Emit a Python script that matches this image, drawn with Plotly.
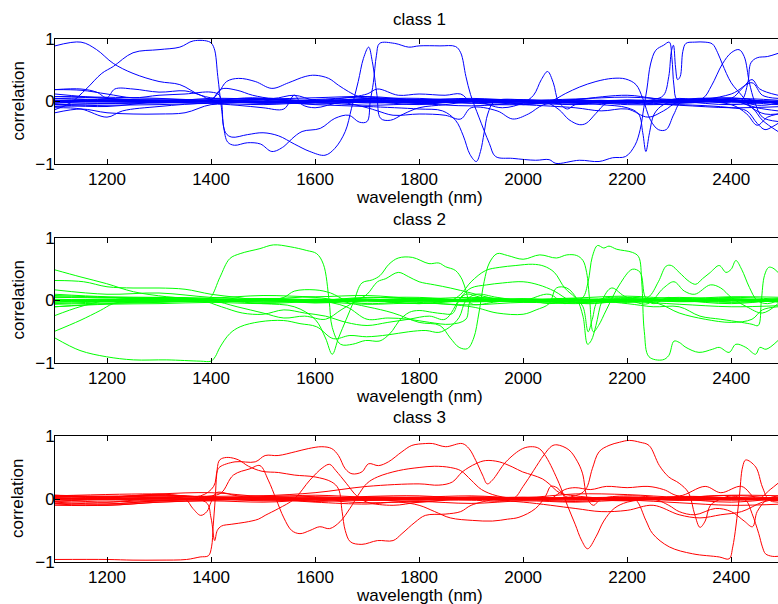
import plotly.graph_objects as go

# ---------------- data ----------------
wl_grid = [1100, 1200, 1300, 1400, 1500, 1600, 1700, 1800, 1900, 2000, 2100, 2200, 2300, 2400, 2500]
x_ticks = [1200, 1400, 1600, 1800, 2000, 2200, 2400]
y_ticks = [-1, 0, 1]
y_ticktext = ["\u22121", "0", "1"]
panel_titles = ["class 1", "class 2", "class 3"]
panel_colors = ["#0000ff", "#00ff00", "#ff0000"]

# ---- class 1 : large-amplitude curves (wavelength, correlation)
c1_a = [(1100,0.89),(1150,0.95),(1180,0.83),(1212,0.61),(1250,0.45),(1300,0.32),(1340,0.27),(1380,0.10),(1420,0.04),(1480,0.06),(1550,0.02),(1620,0.04),(1700,0.07),(1760,0.03),(1820,-0.02),(1880,0.01),(1950,0.03),(2050,-0.02),(2150,0.02),(2250,-0.04),(2300,0.05),(2350,0.0),(2400,0.04),(2450,-0.06),(2490,-0.03)]
c1_b = [(1100,-0.13),(1130,-0.02),(1160,0.2),(1190,0.45),(1212,0.56),(1250,0.78),(1300,0.83),(1340,0.87),(1366,0.97),(1398,0.95),(1406,0.85),(1413,0.4),(1420,-0.1),(1428,-0.5),(1440,-0.57),(1470,-0.53),(1500,-0.5),(1530,-0.55),(1560,-0.68),(1590,-0.8),(1619,-0.86),(1638,-0.75),(1658,-0.48),(1670,-0.11),(1683,0.32),(1693,0.69),(1703,0.87),(1710,0.64),(1719,0.1),(1726,-0.27),(1745,-0.3),(1770,-0.2),(1800,-0.1),(1850,-0.05),(1900,0.0),(1950,0.02),(2000,-0.05),(2050,0.0),(2100,0.03),(2200,-0.02),(2300,0.03),(2400,0.0),(2490,-0.05)]
c1_c = [(1100,0.19),(1150,0.18),(1200,0.12),(1250,0.06),(1300,0.1),(1350,0.12),(1400,0.15),(1416,0.1),(1424,-0.4),(1432,-0.65),(1445,-0.7),(1470,-0.66),(1495,-0.68),(1517,-0.8),(1540,-0.72),(1555,-0.6),(1575,-0.48),(1610,-0.43),(1638,-0.27),(1665,-0.22),(1685,-0.33),(1700,-0.32),(1706,0.0),(1712,0.3),(1718,0.74),(1724,0.93),(1753,0.93),(1780,0.87),(1800,0.89),(1840,0.89),(1870,0.88),(1880,0.78),(1890,0.4),(1899,0.11),(1915,-0.25),(1935,-0.67),(1947,-0.88),(1980,-0.91),(2024,-0.94),(2050,-0.93),(2063,-0.99),(2108,-0.94),(2146,-0.96),(2172,-0.9),(2197,-0.88),(2215,-0.7),(2225,-0.45),(2232,-0.1),(2238,0.2),(2245,0.6),(2255,0.82),(2270,0.9),(2281,0.95),(2286,0.7),(2290,0.25),(2296,0.03),(2330,0.0),(2400,0.02),(2450,-0.1),(2490,-0.15)]
c1_d = [(1100,-0.1),(1150,-0.12),(1200,-0.25),(1230,-0.15),(1300,-0.08),(1400,-0.02),(1500,0.0),(1600,-0.05),(1700,-0.08),(1800,-0.12),(1845,-0.15),(1870,-0.3),(1885,-0.55),(1898,-0.85),(1910,-0.96),(1918,-0.8),(1925,-0.5),(1932,-0.2),(1945,0.0),(2000,0.03),(2100,-0.02),(2200,0.0),(2300,-0.03),(2400,0.02),(2490,0.0)]
c1_e = [(1100,0.02),(1200,0.0),(1300,-0.02),(1400,0.0),(1500,0.03),(1600,0.0),(1700,0.02),(1800,-0.03),(1900,0.0),(2000,0.02),(2100,-0.02),(2200,0.0),(2250,0.03),(2270,0.1),(2280,0.4),(2285,0.8),(2289,0.9),(2293,0.55),(2297,0.35),(2302,0.4),(2307,0.8),(2313,0.93),(2330,0.95),(2350,0.95),(2364,0.92),(2374,0.78),(2383,0.6),(2400,0.3),(2420,0.1),(2440,-0.1),(2465,-0.2),(2490,-0.2)]
c1_f = [(1100,-0.03),(1200,0.02),(1300,0.0),(1400,0.03),(1500,-0.02),(1600,0.02),(1700,0.0),(1800,0.02),(1900,-0.03),(2000,0.0),(2100,0.02),(2200,0.0),(2300,0.03),(2345,0.05),(2362,0.25),(2383,0.6),(2400,0.78),(2415,0.83),(2425,0.72),(2435,0.3),(2445,0.0),(2460,-0.25),(2490,-0.32)]
c1_g = [(1100,0.12),(1200,0.05),(1300,0.02),(1400,0.03),(1415,0.15),(1430,0.32),(1453,0.37),(1485,0.32),(1517,0.21),(1549,0.3),(1581,0.4),(1600,0.42),(1626,0.37),(1645,0.26),(1664,0.16),(1683,0.08),(1700,0.05),(1750,0.02),(1800,-0.03),(1900,0.02),(2000,0.0),(2100,-0.02),(2200,0.02),(2300,0.0),(2400,0.05),(2490,0.02)]
c1_h = [(1100,0.19),(1150,0.2),(1180,0.15),(1200,0.06),(1215,0.2),(1250,0.2),(1300,0.15),(1350,0.17),(1380,0.1),(1400,0.03),(1420,0.2),(1450,0.18),(1480,0.1),(1520,0.05),(1560,0.1),(1600,0.02),(1650,0.05),(1700,0.12),(1720,0.2),(1760,0.1),(1800,0.12),(1850,0.1),(1880,0.12),(1900,0.0),(2000,-0.05),(2100,0.03),(2200,0.1),(2250,0.05),(2300,0.0),(2400,0.12),(2440,0.3),(2460,0.1),(2490,0.05)]
c1_i = [(1100,-0.18),(1150,-0.12),(1200,-0.18),(1250,-0.2),(1300,-0.2),(1350,-0.18),(1400,-0.05),(1450,-0.06),(1500,-0.1),(1540,-0.12),(1560,0.1),(1575,-0.05),(1600,-0.1),(1650,-0.02),(1700,-0.1),(1720,-0.15),(1750,-0.22),(1800,-0.2),(1850,-0.22),(1880,-0.28),(1900,-0.1),(1950,-0.15),(1980,-0.28),(2010,-0.2),(2040,-0.05),(2100,0.0),(2200,-0.05),(2300,-0.05),(2400,-0.1),(2430,-0.15),(2450,-0.35),(2465,-0.45),(2480,-0.4),(2490,-0.35)]
c1_j = [(1100,0.0),(1300,0.02),(1500,-0.02),(1700,0.0),(1900,0.02),(1960,-0.1),(2000,-0.02),(2020,0.1),(2035,0.35),(2047,0.48),(2058,0.3),(2068,0.0),(2085,-0.12),(2100,-0.05),(2150,0.0),(2200,0.02),(2300,-0.02),(2400,0.03),(2490,-0.03)]
c1_k = [(1100,0.05),(1300,0.0),(1500,0.03),(1700,-0.02),(1900,0.0),(2000,0.02),(2050,0.0),(2082,0.13),(2108,0.23),(2140,0.32),(2172,0.37),(2197,0.36),(2217,0.27),(2230,0.05),(2245,-0.3),(2260,-0.45),(2275,-0.45),(2290,-0.2),(2305,0.0),(2400,0.02),(2440,-0.1),(2460,-0.3),(2490,-0.48)]
c1_l = [(1100,-0.05),(1300,-0.02),(1500,0.0),(1700,0.03),(1900,-0.02),(2000,0.0),(2040,0.0),(2069,-0.13),(2088,-0.29),(2108,-0.37),(2121,-0.35),(2140,-0.19),(2160,-0.03),(2200,0.0),(2300,0.02),(2400,-0.02),(2490,0.0)]
c1_m = [(1100,0.08),(1300,0.05),(1500,-0.02),(1700,0.02),(1900,0.0),(2100,-0.02),(2150,-0.05),(2200,-0.1),(2222,-0.2),(2230,-0.5),(2236,-0.8),(2243,-0.5),(2252,-0.2),(2270,-0.05),(2300,0.0),(2400,-0.05),(2430,-0.2),(2450,-0.38),(2470,-0.25),(2490,-0.2)]
c1_n = [(1100,-0.05),(1200,-0.08),(1300,0.0),(1400,0.02),(1500,0.05),(1600,0.0),(1700,0.05),(1800,0.02),(1900,0.0),(2000,-0.05),(2100,-0.1),(2150,-0.15),(2200,-0.12),(2240,-0.25),(2270,-0.15),(2300,0.0),(2400,0.05),(2420,0.2),(2440,0.35),(2455,0.2),(2490,0.1)]
c1_o = [(1100,0.0),(1300,0.02),(1500,-0.02),(1700,0.0),(1900,0.03),(2100,0.0),(2300,0.02),(2400,0.0),(2420,0.02),(2432,0.3),(2438,0.62),(2450,0.7),(2470,0.72),(2490,0.77)]

# ---- class 1 : near-zero bundle on wl_grid
b1_1 = [0.02,0.01,0.0,0.02,0.0,-0.01,0.01,0.03,0.0,0.01,-0.02,0.0,0.02,0.01,0.0]
b1_2 = [-0.02,0.0,0.02,0.0,0.03,0.01,-0.02,0.0,0.02,-0.01,0.0,0.02,-0.01,0.0,-0.02]
b1_3 = [0.05,0.03,0.04,0.01,-0.03,0.0,0.04,0.05,0.0,-0.02,0.01,-0.03,0.04,0.02,-0.03]
b1_4 = [-0.05,-0.03,-0.02,0.0,0.02,-0.04,0.0,-0.05,0.03,0.0,-0.04,0.02,0.0,-0.05,0.02]
b1_5 = [0.0,0.0,0.01,-0.01,0.0,0.01,0.0,-0.01,0.0,0.0,0.01,0.0,-0.01,0.0,0.0]
b1_6 = [0.08,0.05,0.0,0.05,0.04,0.06,0.08,0.03,0.05,0.02,0.04,0.07,0.03,0.06,-0.05]
b1_7 = [-0.08,-0.06,-0.05,-0.03,-0.05,-0.02,-0.06,-0.04,-0.07,-0.03,-0.05,-0.02,-0.06,-0.1,-0.08]
b1_8 = [0.01,-0.01,0.0,0.0,-0.01,0.02,0.01,0.0,0.0,0.02,0.0,-0.01,0.01,0.02,0.0]

# ---- class 2 : large-amplitude curves
c2_a = [(1100,-0.6),(1148,-0.8),(1199,-0.9),(1251,-0.95),(1315,-0.95),(1379,-0.97),(1400,-0.97),(1408,-0.9),(1417,-0.75),(1436,-0.53),(1456,-0.42),(1494,-0.34),(1539,-0.32),(1571,-0.37),(1603,-0.42),(1635,-0.61),(1667,-0.56),(1699,-0.58),(1740,-0.55),(1780,-0.5),(1813,-0.48),(1838,-0.51),(1858,-0.43),(1877,-0.27),(1890,0.0),(1910,0.1),(1950,0.05),(2000,0.0),(2100,0.03),(2200,-0.02),(2300,0.0),(2400,0.02),(2490,0.0)]
c2_b = [(1100,0.0),(1200,0.02),(1300,0.0),(1390,0.02),(1400,0.06),(1417,0.37),(1436,0.67),(1456,0.75),(1494,0.83),(1520,0.89),(1552,0.86),(1584,0.8),(1603,0.75),(1616,0.58),(1627,0.0),(1633,-0.43),(1649,-0.7),(1672,-0.7),(1697,-0.64),(1723,-0.65),(1736,-0.59),(1749,-0.48),(1762,-0.32),(1781,-0.19),(1800,-0.16),(1826,-0.19),(1845,-0.21),(1864,-0.21),(1877,0.0),(1890,0.1),(1920,0.05),(2000,0.0),(2100,-0.03),(2200,0.0),(2300,0.02),(2400,0.0),(2490,0.02)]
c2_c = [(1100,0.49),(1148,0.38),(1199,0.27),(1251,0.14),(1315,0.06),(1379,0.01),(1420,-0.1),(1460,-0.2),(1500,-0.22),(1540,-0.15),(1580,-0.2),(1620,-0.25),(1660,-0.35),(1700,-0.4),(1740,-0.35),(1780,-0.3),(1820,-0.25),(1850,-0.3),(1880,0.05),(1900,0.2),(1930,0.25),(1960,0.28),(2000,0.3),(2030,0.25),(2060,0.15),(2090,0.0),(2120,-0.05),(2200,0.0),(2300,0.05),(2400,0.0),(2490,0.03)]
c2_d = [(1100,-0.49),(1148,-0.32),(1187,-0.16),(1212,-0.05),(1251,0.0),(1300,0.02),(1400,0.0),(1450,-0.1),(1500,-0.2),(1540,-0.28),(1580,-0.25),(1620,-0.3),(1650,-0.15),(1680,0.0),(1700,0.1),(1720,0.3),(1736,0.35),(1760,0.45),(1780,0.38),(1800,0.3),(1830,0.25),(1860,0.2),(1900,0.12),(1950,0.02),(2000,-0.02),(2100,0.0),(2200,0.02),(2300,-0.02),(2400,0.0),(2490,0.0)]
c2_e = [(1100,0.0),(1300,0.02),(1400,0.0),(1500,-0.05),(1560,-0.1),(1600,-0.3),(1620,-0.6),(1633,-0.86),(1645,-0.6),(1660,-0.3),(1675,0.0),(1690,0.28),(1710,0.33),(1725,0.4),(1742,0.58),(1760,0.68),(1787,0.69),(1819,0.59),(1838,0.6),(1851,0.54),(1870,0.48),(1883,0.33),(1890,0.16),(1900,-0.05),(1950,-0.02),(2000,0.02),(2050,-0.05),(2100,0.0),(2200,0.02),(2300,0.0),(2400,-0.03),(2490,0.0)]
c2_f = [(1100,0.17),(1200,0.1),(1300,0.12),(1400,0.05),(1500,0.02),(1600,0.05),(1700,-0.1),(1750,-0.2),(1800,-0.35),(1840,-0.4),(1860,-0.6),(1877,-0.75),(1893,-0.77),(1905,-0.6),(1915,-0.2),(1925,0.3),(1935,0.6),(1950,0.75),(1970,0.72),(2000,0.66),(2032,0.73),(2064,0.68),(2084,0.73),(2103,0.72),(2115,0.64),(2122,0.45),(2128,0.0),(2135,-0.5),(2145,-0.4),(2160,-0.15),(2185,0.25),(2210,0.5),(2225,0.45),(2235,0.05),(2250,-0.05),(2280,0.05),(2300,0.0),(2400,0.02),(2490,-0.02)]
c2_g = [(1100,0.08),(1200,0.05),(1300,0.02),(1400,0.0),(1500,0.03),(1600,0.0),(1700,0.05),(1800,0.02),(1860,0.0),(1880,0.1),(1900,0.3),(1928,0.48),(1954,0.53),(1986,0.56),(2018,0.58),(2040,0.55),(2060,0.45),(2080,0.2),(2100,0.05),(2115,-0.1),(2125,-0.5),(2133,-0.3),(2145,0.0),(2200,0.05),(2300,0.0),(2400,0.03),(2490,0.0)]
c2_h = [(1100,-0.05),(1200,-0.02),(1300,0.0),(1400,0.02),(1500,0.0),(1600,-0.03),(1700,0.0),(1800,0.02),(1900,0.0),(2000,0.03),(2100,0.0),(2115,0.05),(2125,0.3),(2133,0.7),(2143,0.88),(2155,0.84),(2165,0.87),(2180,0.82),(2210,0.77),(2222,0.7),(2228,0.3),(2233,-0.5),(2242,-0.9),(2268,-0.95),(2280,-0.88),(2290,-0.65),(2300,-0.67),(2313,-0.75),(2338,-0.83),(2364,-0.78),(2377,-0.75),(2396,-0.83),(2409,-0.7),(2428,-0.75),(2447,-0.86),(2455,-0.75),(2467,-0.78),(2490,-0.64)]
c2_m = [(1100,0.0),(1300,-0.02),(1500,0.02),(1700,0.0),(1900,-0.02),(2100,0.0),(2200,0.0),(2240,0.05),(2260,0.3),(2275,0.55),(2285,0.56),(2300,0.45),(2320,0.3),(2332,0.26),(2345,0.35),(2360,0.45),(2377,0.56),(2390,0.45),(2400,0.5),(2409,0.64),(2420,0.5),(2435,0.21),(2450,0.0),(2470,-0.05),(2490,0.0)]
c2_n = [(1100,-0.1),(1200,-0.05),(1300,-0.03),(1400,0.0),(1500,0.02),(1600,-0.02),(1700,0.0),(1800,-0.05),(1900,0.0),(2000,-0.02),(2100,0.0),(2200,0.0),(2240,-0.05),(2270,0.2),(2290,0.3),(2310,0.15),(2330,0.1),(2360,0.25),(2380,0.2),(2400,0.05),(2430,-0.1),(2460,-0.2),(2490,-0.05)]
c2_o = [(1100,-0.24),(1148,-0.1),(1199,0.0),(1300,0.05),(1400,0.03),(1500,0.0),(1600,0.02),(1700,0.0),(1800,0.0),(1900,-0.02),(2000,0.0),(2100,0.02),(2200,-0.05),(2250,-0.1),(2300,-0.1),(2340,-0.25),(2380,-0.3),(2420,-0.35),(2440,-0.38),(2452,-0.4),(2458,0.0),(2464,0.4),(2472,0.53),(2480,0.52),(2490,0.45)]
c2_p = [(1100,0.32),(1155,0.3),(1200,0.22),(1250,0.2),(1300,0.2),(1350,0.18),(1400,0.1),(1450,0.05),(1500,0.0),(1540,0.05),(1560,0.15),(1600,0.17),(1630,0.12),(1660,0.0),(1700,-0.05),(1800,0.0),(1900,0.02),(2000,0.0),(2050,0.1),(2080,-0.05),(2100,0.0),(2200,0.03),(2300,0.0),(2400,0.05),(2490,0.02)]
c2_q = [(1100,0.05),(1300,0.03),(1500,0.0),(1700,0.02),(1900,0.0),(2100,0.02),(2200,0.0),(2260,-0.05),(2300,-0.2),(2350,-0.3),(2400,-0.35),(2440,-0.3),(2460,-0.15),(2490,-0.1)]
c2_r = [(1100,0.0),(1300,-0.02),(1500,0.0),(1600,0.0),(1660,-0.1),(1700,-0.3),(1740,-0.28),(1780,-0.3),(1820,-0.35),(1860,-0.38),(1890,-0.3),(1900,0.0),(1950,0.0),(2000,0.02),(2100,-0.02),(2200,0.0),(2300,0.02),(2400,0.0),(2490,0.02)]
c2_s = [(1100,-0.03),(1300,0.0),(1500,-0.02),(1700,0.0),(1900,-0.1),(1950,-0.2),(2000,-0.22),(2025,-0.15),(2050,-0.05),(2064,0.2),(2084,0.2),(2103,0.03),(2115,-0.25),(2124,-0.7),(2131,-0.64),(2140,-0.4),(2152,0.0),(2170,0.2),(2200,0.05),(2300,0.02),(2400,-0.02),(2490,0.0)]

# ---- class 2 : near-zero bundle on wl_grid
b2_1 = [0.02,0.01,0.03,0.0,0.02,-0.01,0.01,0.03,0.0,0.01,-0.02,0.0,0.02,0.01,0.0]
b2_2 = [-0.02,0.0,0.02,0.0,0.03,0.01,-0.02,0.0,0.02,-0.01,0.0,0.02,-0.01,0.0,-0.02]
b2_3 = [0.06,0.05,0.04,0.02,-0.03,0.0,0.04,0.05,0.0,-0.02,0.01,-0.03,0.04,0.02,-0.03]
b2_4 = [-0.06,-0.04,-0.02,0.0,0.02,-0.04,0.0,-0.05,0.03,0.0,-0.04,0.02,0.0,-0.05,0.02]
b2_5 = [0.0,0.0,0.01,-0.01,0.0,0.01,0.0,-0.01,0.0,0.0,0.01,0.0,-0.01,0.0,0.0]
b2_6 = [0.1,0.06,0.05,0.04,0.08,0.06,0.08,0.03,0.05,0.02,0.04,0.07,0.03,0.06,0.05]
b2_7 = [-0.1,-0.06,-0.05,-0.03,-0.05,-0.02,-0.06,-0.04,-0.07,-0.03,-0.05,-0.02,-0.06,-0.1,-0.08]
b2_8 = [0.01,-0.01,0.0,0.0,-0.01,0.02,0.01,0.0,0.0,0.02,0.0,-0.01,0.01,0.02,0.0]

# ---- class 3 : large-amplitude curves
c3_a = [(1100,-0.96),(1200,-0.96),(1250,-0.97),(1300,-0.97),(1353,-0.96),(1379,-0.92),(1395,-0.9),(1401,-0.76),(1404,-0.44),(1408,0.0),(1411,0.4),(1415,0.6),(1420,0.64),(1433,0.66),(1453,0.62),(1472,0.52),(1498,0.44),(1530,0.42),(1560,0.38),(1600,0.35),(1632,0.27),(1645,0.16),(1652,-0.2),(1658,-0.5),(1668,-0.68),(1690,-0.72),(1720,-0.66),(1750,-0.66),(1767,-0.55),(1792,-0.37),(1812,-0.26),(1850,-0.24),(1880,-0.2),(1900,-0.1),(1950,0.0),(2000,0.02),(2100,0.0),(2200,0.03),(2300,0.0),(2400,0.02),(2490,0.0)]
c3_b = [(1100,0.05),(1300,0.08),(1380,0.05),(1405,0.2),(1412,0.45),(1417,0.51),(1446,0.59),(1485,0.59),(1504,0.69),(1529,0.69),(1562,0.75),(1587,0.8),(1613,0.83),(1632,0.8),(1645,0.69),(1658,0.48),(1671,0.4),(1690,0.43),(1703,0.56),(1722,0.53),(1741,0.59),(1767,0.75),(1786,0.85),(1812,0.88),(1826,0.88),(1851,0.83),(1883,0.88),(1896,0.8),(1909,0.61),(1922,0.38),(1931,0.24),(1941,0.3),(1967,0.59),(1999,0.8),(2018,0.83),(2031,0.8),(2044,0.67),(2069,0.25),(2085,-0.1),(2100,-0.4),(2112,-0.65),(2124,-0.79),(2140,-0.6),(2155,-0.35),(2175,-0.15),(2200,-0.05),(2250,0.0),(2300,0.02),(2400,0.0),(2490,0.03)]
c3_c = [(1100,-0.05),(1200,-0.08),(1300,-0.03),(1390,-0.05),(1400,-0.3),(1407,-0.66),(1412,-0.5),(1420,-0.43),(1440,-0.4),(1465,-0.37),(1491,-0.32),(1504,-0.26),(1530,-0.15),(1560,0.0),(1590,0.3),(1615,0.5),(1628,0.55),(1640,0.45),(1660,0.25),(1680,0.05),(1700,-0.05),(1750,-0.1),(1800,-0.05),(1900,0.0),(2000,0.03),(2100,0.0),(2200,-0.02),(2300,0.0),(2400,0.02),(2490,0.0)]
c3_d = [(1100,0.05),(1200,0.03),(1300,0.06),(1400,0.05),(1420,0.1),(1443,0.38),(1475,0.48),(1494,0.53),(1510,0.3),(1525,0.0),(1540,-0.3),(1555,-0.5),(1571,-0.55),(1590,-0.5),(1609,-0.44),(1628,-0.47),(1648,-0.36),(1667,-0.15),(1686,0.1),(1700,0.25),(1720,0.35),(1760,0.45),(1800,0.5),(1830,0.52),(1860,0.5),(1880,0.45),(1900,0.3),(1920,0.15),(1950,0.05),(2000,0.0),(2100,0.02),(2200,0.0),(2300,-0.02),(2400,0.0),(2490,0.02)]
c3_e = [(1100,-0.08),(1200,-0.1),(1300,-0.05),(1400,-0.02),(1500,0.0),(1600,-0.05),(1700,-0.08),(1760,-0.05),(1800,-0.1),(1830,-0.2),(1860,-0.3),(1903,-0.34),(1941,-0.35),(1970,-0.32),(1992,-0.29),(2024,-0.15),(2044,0.06),(2053,0.2),(2065,0.18),(2080,0.05),(2100,0.0),(2200,0.02),(2300,-0.02),(2400,0.0),(2490,0.02)]
c3_f = [(1100,0.02),(1200,0.0),(1300,0.03),(1400,0.0),(1500,0.02),(1600,0.0),(1700,-0.02),(1800,0.0),(1900,-0.02),(1980,0.0),(2000,0.2),(2020,0.45),(2040,0.7),(2055,0.84),(2065,0.86),(2088,0.78),(2104,0.6),(2114,0.41),(2124,0.0),(2135,-0.1),(2150,0.0),(2200,0.05),(2300,0.0),(2400,-0.02),(2490,0.0)]
c3_g = [(1100,0.03),(1300,0.05),(1400,0.02),(1500,0.05),(1600,0.1),(1700,0.2),(1800,0.24),(1838,0.22),(1864,0.27),(1883,0.43),(1909,0.56),(1928,0.61),(1954,0.59),(1979,0.51),(1999,0.43),(2018,0.38),(2037,0.32),(2050,0.24),(2070,0.1),(2100,0.05),(2200,0.0),(2300,0.03),(2400,0.0),(2490,-0.02)]
c3_h = [(1100,-0.03),(1300,0.0),(1500,-0.02),(1700,0.0),(1900,0.02),(2000,0.0),(2100,0.05),(2120,0.15),(2133,0.48),(2146,0.75),(2165,0.85),(2185,0.9),(2204,0.93),(2225,0.9),(2242,0.85),(2262,0.53),(2280,0.35),(2300,0.25),(2318,0.1),(2330,-0.25),(2340,-0.45),(2350,-0.35),(2360,-0.1),(2380,0.0),(2400,0.05),(2490,0.0)]
c3_i = [(1100,0.0),(1300,-0.02),(1500,0.0),(1700,0.02),(1900,0.0),(2100,-0.02),(2200,0.0),(2217,-0.02),(2236,-0.34),(2249,-0.55),(2281,-0.76),(2326,-0.87),(2377,-0.92),(2396,-0.95),(2403,-0.76),(2415,-0.02),(2422,0.51),(2428,0.62),(2447,0.51),(2460,0.19),(2473,-0.02),(2490,-0.05)]
c3_j = [(1100,0.02),(1300,0.0),(1500,0.02),(1700,0.0),(1900,0.03),(2100,0.0),(2300,0.02),(2400,0.05),(2428,-0.02),(2440,-0.23),(2453,-0.55),(2460,-0.76),(2466,-0.87),(2479,-0.91),(2490,-0.91)]
c3_k = [(1100,0.0),(1300,0.02),(1500,0.0),(1700,-0.02),(1900,0.0),(2100,0.02),(2250,0.0),(2280,-0.1),(2300,-0.2),(2330,-0.25),(2370,-0.15),(2400,-0.2),(2425,-0.35),(2441,-0.44),(2450,-0.2),(2470,0.0),(2490,0.05)]
c3_l = [(1100,0.06),(1300,0.03),(1500,0.05),(1700,0.02),(1900,0.0),(2000,0.02),(2050,0.0),(2080,0.15),(2100,0.18),(2130,0.15),(2160,0.2),(2200,0.18),(2240,0.2),(2270,0.15),(2300,0.05),(2350,0.2),(2380,0.1),(2420,0.2),(2450,0.0),(2475,0.15),(2490,0.25)]
c3_m = [(1100,0.0),(1200,-0.05),(1300,0.02),(1350,0.0),(1365,-0.15),(1380,-0.26),(1392,-0.2),(1400,-0.05),(1410,0.1),(1450,0.05),(1500,0.0),(1600,0.02),(1700,0.0),(1800,-0.02),(1900,0.0),(2000,-0.05),(2100,-0.15),(2150,-0.2),(2200,-0.18),(2250,-0.1),(2300,-0.25),(2340,-0.3),(2380,-0.25),(2420,-0.2),(2460,-0.05),(2490,0.0)]

# ---- class 3 : near-zero bundle on wl_grid
b3_1 = [0.04,0.02,0.05,0.03,0.02,0.01,0.03,0.02,0.0,0.01,0.02,0.0,0.03,0.01,0.0]
b3_2 = [-0.04,-0.05,-0.02,0.0,0.03,0.01,-0.02,0.0,0.02,-0.01,0.0,0.02,-0.01,0.0,-0.02]
b3_3 = [0.06,0.03,0.07,0.02,-0.03,0.0,0.04,0.05,0.0,-0.02,0.01,-0.03,0.04,0.02,-0.03]
b3_4 = [-0.07,-0.08,-0.03,0.0,0.02,-0.04,0.0,-0.05,0.03,0.0,-0.04,0.02,0.0,-0.05,0.02]
b3_5 = [0.0,0.0,0.01,-0.01,0.0,0.01,0.0,-0.01,0.0,0.0,0.01,0.0,-0.01,0.0,0.0]
b3_6 = [0.05,0.03,0.08,0.1,0.04,0.06,0.03,0.03,0.05,0.02,0.08,0.07,0.03,0.06,0.05]
b3_7 = [-0.1,-0.1,-0.05,-0.03,-0.05,-0.02,-0.06,-0.04,-0.07,-0.03,-0.05,-0.02,-0.06,-0.1,-0.08]
b3_8 = [0.01,-0.01,0.0,0.0,-0.01,0.02,0.01,0.0,0.0,0.02,0.0,-0.01,0.01,0.02,0.0]

curves = [
    [c1_a, c1_b, c1_c, c1_d, c1_e, c1_f, c1_g, c1_h, c1_i, c1_j, c1_k, c1_l, c1_m, c1_n, c1_o],
    [c2_a, c2_b, c2_c, c2_d, c2_e, c2_f, c2_g, c2_h, c2_m, c2_n, c2_o, c2_p, c2_q, c2_r, c2_s],
    [c3_a, c3_b, c3_c, c3_d, c3_e, c3_f, c3_g, c3_h, c3_i, c3_j, c3_k, c3_l, c3_m],
]
bundles = [
    [b1_1, b1_2, b1_3, b1_4, b1_5, b1_6, b1_7, b1_8],
    [b2_1, b2_2, b2_3, b2_4, b2_5, b2_6, b2_7, b2_8],
    [b3_1, b3_2, b3_3, b3_4, b3_5, b3_6, b3_7, b3_8],
]

# ---------------- figure ----------------
W, H = 778, 604
FONT = "Liberation Sans, Arial, Helvetica, sans-serif"
FS = 17
boxes = [(39, 164), (238, 363), (436, 562)]   # plot boxes (top, bottom) in px
x_left = 55

fig = go.Figure()
for i in range(3):
    xa = "x" if i == 0 else f"x{i+1}"
    ya = "y" if i == 0 else f"y{i+1}"
    col = panel_colors[i]
    for b in bundles[i]:
        fig.add_trace(go.Scatter(x=wl_grid, y=b, mode="lines", xaxis=xa, yaxis=ya,
                                 line=dict(color=col, width=1, shape="spline"),
                                 showlegend=False, hoverinfo="skip"))
    for c in curves[i]:
        fig.add_trace(go.Scatter(x=[p[0] for p in c], y=[p[1] for p in c], mode="lines",
                                 xaxis=xa, yaxis=ya,
                                 line=dict(color=col, width=1, shape="spline"),
                                 showlegend=False, hoverinfo="skip"))

layout = dict(template="none", width=W, height=H, margin=dict(l=0, r=0, t=0, b=0, autoexpand=False),
              paper_bgcolor="white", plot_bgcolor="white",
              font=dict(family=FONT, size=FS, color="black"), showlegend=False)
annotations = []
for i, (top, bot) in enumerate(boxes):
    xk = "xaxis" if i == 0 else f"xaxis{i+1}"
    yk = "yaxis" if i == 0 else f"yaxis{i+1}"
    yanchor = "y" if i == 0 else f"y{i+1}"
    xanchor = "x" if i == 0 else f"x{i+1}"
    layout[xk] = dict(domain=[x_left / W, 1.0], range=[1100, 2490], anchor=yanchor,
                      tickvals=x_ticks, ticks="inside", ticklen=5, tickwidth=1, tickcolor="black",
                      showline=True, linecolor="black", linewidth=1, mirror="ticks",
                      showgrid=False, zeroline=False, automargin=False,
                      tickfont=dict(size=FS, family=FONT, color="black"))
    layout[yk] = dict(domain=[1 - bot / H, 1 - top / H], range=[-1, 1], anchor=xanchor,
                      tickvals=y_ticks, ticktext=y_ticktext, ticks="inside", ticklen=5,
                      tickwidth=1, tickcolor="black", ticklabelstandoff=-4,
                      showline=True, linecolor="black", linewidth=1, mirror=False,
                      showgrid=False, zeroline=False, automargin=False,
                      tickfont=dict(size=FS, family=FONT, color="black"))
    annotations.append(dict(text=panel_titles[i], xref="paper", yref="paper",
                            x=419 / W, y=1 - (top - 19) / H, xanchor="center", yanchor="middle",
                            showarrow=False, font=dict(size=FS, family=FONT, color="black")))
    annotations.append(dict(text="wavelength (nm)", xref="paper", yref="paper",
                            x=419 / W, y=1 - (bot + 33) / H, xanchor="center", yanchor="middle",
                            showarrow=False, font=dict(size=FS, family=FONT, color="black")))
    annotations.append(dict(text="correlation", xref="paper", yref="paper",
                            x=18 / W, y=1 - ((top + bot) / 2) / H, xanchor="center", yanchor="middle",
                            textangle=-90, showarrow=False, font=dict(size=FS, family=FONT, color="black")))
layout["annotations"] = annotations
fig.update_layout(**layout)
fig.write_html("out.html", config={"displayModeBar": False, "staticPlot": True},
               post_script="document.body.style.margin='0px';document.body.style.overflow='hidden';")
